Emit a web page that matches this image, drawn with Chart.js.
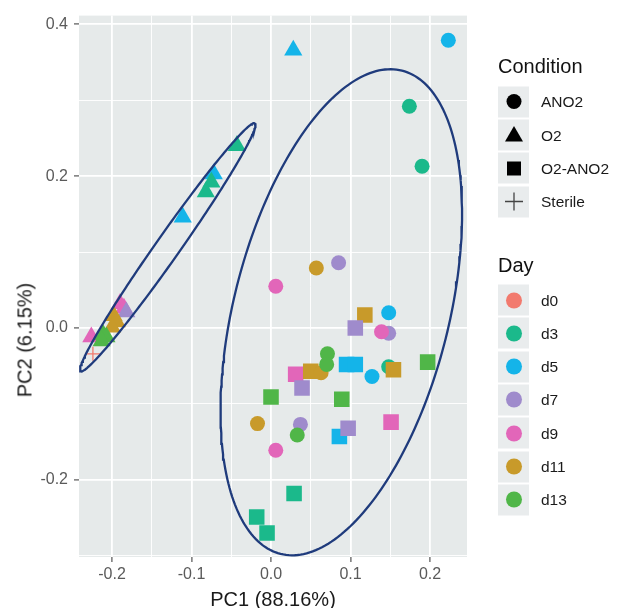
<!DOCTYPE html>
<html>
<head>
<meta charset="utf-8">
<script src="https://cdn.jsdelivr.net/npm/chart.js@4.4.0/dist/chart.umd.min.js"></script>
<style>
  body { margin: 0; background: #fff; font-family: "Liberation Sans", Arial, sans-serif; }
  #wrap { position: relative; width: 617px; height: 608px; overflow: hidden; }
  #pca { position: absolute; left: 0; top: 0; }
  .axis-title { position: absolute; font-size: 20px; color: #1a1a1a; white-space: nowrap; transform: translate(-50%, -50%); }
  #ytitle { transform: translate(-50%, -50%) rotate(-90deg); }
  .leg-title { position: absolute; left: 498px; font-size: 20px; color: #111; transform: translateY(-50%); }
  .leg-row { position: absolute; left: 498px; height: 31px; display: flex; align-items: center; transform: translateY(-50%); }
  .leg-key { width: 31px; height: 31px; background: #e9eced; display: flex; align-items: center; justify-content: center; }
  .leg-label { margin-left: 12px; font-size: 15.5px; color: #1a1a1a; }
</style>
</head>
<body>
<div id="wrap">
  <canvas id="pca" width="617" height="608"></canvas>
  <div class="axis-title" id="ytitle" style="left:25px; top:340px;">PC2 (6.15%)</div>
  <div class="axis-title" id="xtitle" style="left:273px; top:599px;">PC1 (88.16%)</div>
  <div id="legend"></div>
</div>
<script>
// Legend levels
const days = ['d0', 'd3', 'd5', 'd7', 'd9', 'd11', 'd13'];
const conditions = ['ANO2', 'O2', 'O2-ANO2', 'Sterile'];

// PCA scores per sample (drawing order: later samples sit on top)
const pc1 = [
  // ANO2
  0.223, 0.174, 0.190, 0.006, 0.057, 0.085, 0.148, 0.148, 0.139,
  0.148, 0.127, -0.017, 0.037, 0.033, 0.006,
  // O2
  0.028, -0.043, -0.072, -0.075, -0.082, -0.111,
  -0.226, -0.190, -0.185, -0.182, -0.198, -0.194, -0.200, -0.207, -0.211, -0.213,
  // Sterile
  -0.224,
  // O2-ANO2
  0.118, 0.106, 0.095, 0.106, 0.154, 0.197, 0.031, 0.050, 0.039, 0.000,
  0.089, 0.086, 0.097, 0.151, 0.029, -0.018, -0.005,
  // ANO2 (late)
  0.063, 0.071, 0.070
];
const pc2 = [
  0.379, 0.292, 0.213, 0.055, 0.079, 0.086, 0.020, -0.007, -0.005,
  -0.051, -0.064, -0.126, -0.127, -0.141, -0.161,
  0.366, 0.240, 0.203, 0.192, 0.179, 0.146,
  -0.012, 0.032, 0.026, 0.021, 0.016, 0.008, 0.001, -0.012, -0.009, -0.017,
  -0.034,
  0.017, 0.000, -0.048, -0.048, -0.055, -0.045, -0.061, -0.057, -0.079, -0.091,
  -0.094, -0.143, -0.132, -0.124, -0.218, -0.249, -0.270,
  -0.059, -0.034, -0.048
];
const sampleDay = [
  'd5', 'd3', 'd3', 'd9', 'd11', 'd7', 'd5', 'd7', 'd9',
  'd3', 'd5', 'd11', 'd7', 'd13', 'd9',
  'd5', 'd3', 'd5', 'd3', 'd3', 'd5',
  'd9', 'd9', 'd9', 'd7', 'd11', 'd11', 'd11', 'd13', 'd13', 'd13',
  'd0',
  'd11', 'd7', 'd5', 'd5', 'd11', 'd13', 'd9', 'd11', 'd7', 'd13',
  'd13', 'd5', 'd7', 'd9', 'd3', 'd3', 'd3',
  'd11', 'd13', 'd13'
];
const sampleCondition = [
  'ANO2', 'ANO2', 'ANO2', 'ANO2', 'ANO2', 'ANO2', 'ANO2', 'ANO2', 'ANO2',
  'ANO2', 'ANO2', 'ANO2', 'ANO2', 'ANO2', 'ANO2',
  'O2', 'O2', 'O2', 'O2', 'O2', 'O2',
  'O2', 'O2', 'O2', 'O2', 'O2', 'O2', 'O2', 'O2', 'O2', 'O2',
  'Sterile',
  'O2-ANO2', 'O2-ANO2', 'O2-ANO2', 'O2-ANO2', 'O2-ANO2', 'O2-ANO2', 'O2-ANO2', 'O2-ANO2', 'O2-ANO2', 'O2-ANO2',
  'O2-ANO2', 'O2-ANO2', 'O2-ANO2', 'O2-ANO2', 'O2-ANO2', 'O2-ANO2', 'O2-ANO2',
  'ANO2', 'ANO2', 'ANO2'
];

// Confidence ellipses: centre and two conjugate half-axes, in PC units
const ellipseCenters = [[-0.1298, 0.1064], [0.0884, 0.0207]];
const ellipseAxisA = [[0.1097, 0.1633], [0.0764, 0.3183]];
const ellipseAxisB = [[0.01235, -0.00908], [0.1313, -0.0345]];

// hue palette, keyed by day
const dayColors = {
  d0: '#F27A6E', d3: '#1BB98B', d5: '#14B4E9', d7: '#9F8BCC',
  d9: '#E266B9', d11: '#C89A2A', d13: '#50B648'
};
const shapeStyle = { 'ANO2': 'circle', 'O2': 'triangle', 'O2-ANO2': 'rect', 'Sterile': 'cross' };
const shapeRadius = { 'ANO2': 7.5, 'O2': 10.5, 'O2-ANO2': 11, 'Sterile': 7 };

const points = pc1.map((x, i) => ({ x: x, y: pc2[i] }));
const pointColors = sampleDay.map(d => dayColors[d]);

function ellipsePath(k) {
  const out = [];
  const [cx, cy] = ellipseCenters[k];
  const [ax, ay] = ellipseAxisA[k];
  const [bx, by] = ellipseAxisB[k];
  for (let i = 0; i <= 240; i++) {
    const t = (i / 240) * 2 * Math.PI;
    out.push({ x: cx + ax * Math.cos(t) + bx * Math.sin(t), y: cy + ay * Math.cos(t) + by * Math.sin(t) });
  }
  return out;
}

function onStep(v, step) {
  const r = v / step;
  return Math.abs(r - Math.round(r)) < 1e-6;
}

const panelBackground = {
  id: 'panelBackground',
  beforeDraw(chart) {
    const a = chart.chartArea;
    const ctx = chart.ctx;
    ctx.save();
    ctx.fillStyle = '#e6eaea';
    ctx.fillRect(a.left, a.top, a.right - a.left, a.bottom - a.top);
    ctx.restore();
  }
};

function gridFor(minorStep, majorStep) {
  return {
    color: ctx => onStep(ctx.tick.value, minorStep) ? '#ffffff' : 'rgba(0,0,0,0)',
    lineWidth: ctx => onStep(ctx.tick.value, majorStep) ? 1.8 : 0.9,
    tickColor: ctx => onStep(ctx.tick.value, majorStep) ? '#555555' : 'rgba(0,0,0,0)',
    tickWidth: 1.2,
    tickLength: 5,
    drawTicks: true
  };
}

Chart.defaults.font.family = '"Liberation Sans", Arial, sans-serif';
Chart.defaults.font.size = 16;
Chart.defaults.color = '#5a5a5a';

new Chart(document.getElementById('pca').getContext('2d'), {
  type: 'scatter',
  data: {
    datasets: [
      {
        label: 'samples',
        data: points,
        order: 1,
        pointStyle: sampleCondition.map(c => shapeStyle[c]),
        pointRadius: sampleCondition.map(c => shapeRadius[c]),
        pointBackgroundColor: pointColors,
        pointBorderColor: pointColors,
        pointBorderWidth: sampleCondition.map(c => c === 'Sterile' ? 1.3 : 0),
        pointHoverRadius: sampleCondition.map(c => shapeRadius[c])
      },
      ...[0, 1].map(k => ({
        label: 'ellipse' + k,
        data: ellipsePath(k),
        order: 0,
        showLine: true,
        borderColor: '#1f3b7c',
        borderWidth: 2.3,
        pointRadius: 0,
        tension: 0,
        fill: false
      }))
    ]
  },
  options: {
    responsive: false,
    animation: false,
    layout: { padding: { top: 15, right: 150, left: 0, bottom: 0 } },
    plugins: {
      legend: { display: false },
      tooltip: { enabled: false }
    },
    scales: {
      x: {
        type: 'linear',
        min: -0.2415,
        max: 0.2465,
        border: { display: false },
        grid: gridFor(0.05, 0.1),
        ticks: {
          stepSize: 0.05,
          includeBounds: false,
          autoSkip: false,
          maxRotation: 0,
          padding: 3,
          callback: v => onStep(v, 0.1) ? (Math.round(v * 10) / 10).toFixed(1) : ''
        },
        afterFit(scale) { scale.height = 51; }
      },
      y: {
        type: 'linear',
        min: -0.3017,
        max: 0.4115,
        border: { display: false },
        grid: gridFor(0.1, 0.2),
        ticks: {
          stepSize: 0.1,
          includeBounds: false,
          autoSkip: false,
          padding: 6,
          callback: v => onStep(v, 0.2) ? (Math.round(v * 10) / 10).toFixed(1) : ''
        },
        afterFit(scale) { scale.width = 79; }
      }
    }
  },
  plugins: [panelBackground]
});

// Two-part legend: shapes for Condition, colours for Day
const legend = document.getElementById('legend');
function shapeSvg(style, color) {
  const s = '<svg width="24" height="24" viewBox="-12 -12 24 24">';
  if (style === 'circle') return s + '<circle r="7.5" fill="' + color + '"/></svg>';
  if (style === 'triangle') return s + '<polygon points="0,-9.5 9,6 -9,6" fill="' + color + '"/></svg>';
  if (style === 'rect') return s + '<rect x="-7" y="-7" width="14" height="14" fill="' + color + '"/></svg>';
  return s + '<path d="M-9,0H9M0,-9V9" stroke="#444" stroke-width="1.3"/></svg>';
}
function addTitle(text, y) {
  const el = document.createElement('div');
  el.className = 'leg-title';
  el.style.top = y + 'px';
  el.textContent = text;
  legend.appendChild(el);
}
function addRow(svg, text, y) {
  const row = document.createElement('div');
  row.className = 'leg-row';
  row.style.top = y + 'px';
  row.innerHTML = '<div class="leg-key">' + svg + '</div><span class="leg-label"></span>';
  row.querySelector('.leg-label').textContent = text;
  legend.appendChild(row);
}
addTitle('Condition', 66);
conditions.forEach((c, i) => addRow(shapeSvg(shapeStyle[c], '#000'), c, 101.7 + i * 33.3));
addTitle('Day', 265);
days.forEach((d, i) => {
  const svg = '<svg width="24" height="24" viewBox="-12 -12 24 24"><circle r="8" fill="' + dayColors[d] + '"/></svg>';
  addRow(svg, d, 300 + i * 33.3);
});
</script>
</body>
</html>
